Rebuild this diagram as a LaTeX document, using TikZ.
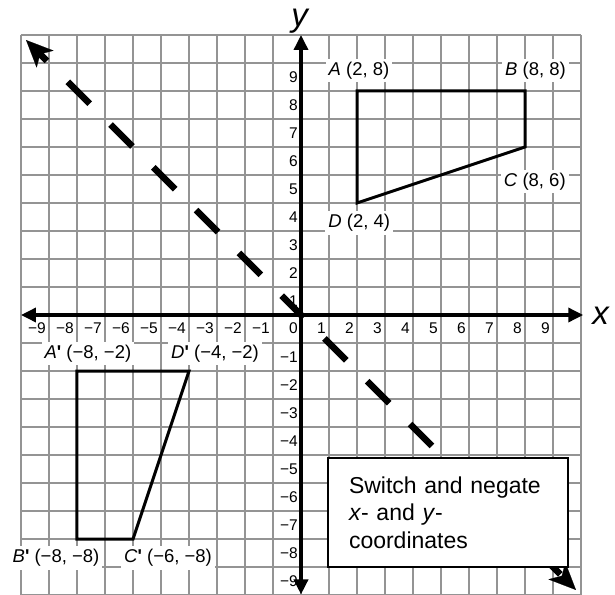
\documentclass[tikz,border=0pt]{standalone}
\usepackage{fontspec}
\setmainfont{Liberation Sans}
\usetikzlibrary{arrows.meta}
\newcommand\signednum[1]{\ifnum#1<0 −\number\numexpr-#1\relax\else#1\fi}
\newcommand\primemark{\textbf{\textquotesingle}}
\tikzset{
  gridline/.style={draw=black!42, line width=1.8pt},
  axisline/.style={line width=3.5pt, {Triangle[length=15pt,width=14pt]}-{Triangle[length=15pt,width=14pt]}},
  ticklab/.style={fill=white, inner xsep=2pt, inner ysep=1pt, anchor=base east,
              font=\fontsize{15.5}{18}\selectfont},
  ptlabel/.style={fill=white, inner xsep=3pt, inner ysep=3pt, anchor=base,
              font=\fontsize{18.5}{22}\selectfont},
  quad/.style={line width=3pt, line join=miter},
  mirror/.style={line width=6.6pt, dash pattern=on 31pt off 29.5pt, dash phase=13.5pt,
              shorten <=12pt, shorten >=12pt},
  bigtip/.style={line width=0.2pt, -{Stealth[length=27pt,width=24pt,inset=7pt]}},
  notebox/.style={draw, line width=2pt, fill=white, minimum width=240pt, minimum height=109pt,
              text width=198pt, inner xsep=21pt, align=left, font=\fontsize{23}{27.5}\selectfont},
  axlab/.style={anchor=base, font=\fontsize{33}{40}\selectfont\itshape},
}

\begin{document}
\begin{tikzpicture}[x=28pt,y=28pt]
        \useasboundingbox (-10.75,-9.964) rectangle (11.214,11.25);
        % grid
        \foreach \k in {-10,...,10} {
          \draw[gridline] (\k,-10) -- (\k,10);
          \draw[gridline] (-10,\k) -- (10,\k);
        }
        % tick labels
        \foreach \k in {-9,...,9}
          \node[ticklab] (xl\k) at (\k-0.036,-0.643) {\signednum{\k}};
        \foreach \k in {-9,...,-1,1,2,...,9}
          \node[ticklab] (yl\k) at (-0.036,\k-0.68) {\signednum{\k}};
        % axes
        \coordinate (xw) at (-10,0);
        \coordinate (xe) at (10.08,0);
        \coordinate (ys) at (0,-9.98);
        \coordinate (yn) at (0,10);
        \draw[axisline] (xw) -- (xe);
        \draw[axisline] (ys) -- (yn);
        \node[axlab] (xlab) at (10.70,-0.357) {x};
        \node[axlab] (ylab) at (-0.05,10.29) {y};
        % figure ABCD and its image
        \coordinate (A) at (2,8);
        \coordinate (B) at (8,8);
        \coordinate (C) at (8,6);
        \coordinate (D) at (2,4);
        \coordinate (Ap) at (-8,-2);
        \coordinate (Bp) at (-8,-8);
        \coordinate (Cp) at (-6,-8);
        \coordinate (Dp) at (-4,-2);
        \draw[quad] (A) -- (B) -- (C) -- (D) -- cycle;
        \draw[quad] (Ap) -- (Bp) -- (Cp) -- (Dp) -- cycle;
        \node[ptlabel] (lA) at (2.07,8.571) {\textit{A} (2, 8)};
        \node[ptlabel] (lB) at (8.375,8.571) {\textit{B} (8, 8)};
        \node[ptlabel] (lC) at (8.35,4.607) {\textit{C} (8, 6)};
        \node[ptlabel] (lD) at (2.08,3.118) {\textit{D} (2, 4)};
        \node[ptlabel] (lAp) at (-7.61,-1.546) {\textit{A}\primemark{} (−8, −2)};
        \node[ptlabel] (lDp) at (-3.07,-1.546) {\textit{D}\primemark{} (−4, −2)};
        \node[ptlabel] (lBp) at (-8.75,-8.846) {\textit{B}\primemark{} (−8, −8)};
        \node[ptlabel] (lCp) at (-4.75,-8.846) {\textit{C}\primemark{} (−6, −8)};
        % line of reflection
        \coordinate (mS) at (-9.82,9.82);
        \coordinate (mE) at (9.82,-9.82);
        \coordinate (mSi) at (-9.35,9.35);
        \coordinate (mEi) at (9.35,-9.35);
        \draw[mirror] (mS) -- (mE);
        \draw[bigtip] (mSi) -- (mS);
        \draw[bigtip] (mEi) -- (mE);
        \node[notebox] (rule) at (5.25,-7.054) {Switch and negate\\\textit{x}- and \textit{y}-\\coordinates};
      \end{tikzpicture}
\end{document}
